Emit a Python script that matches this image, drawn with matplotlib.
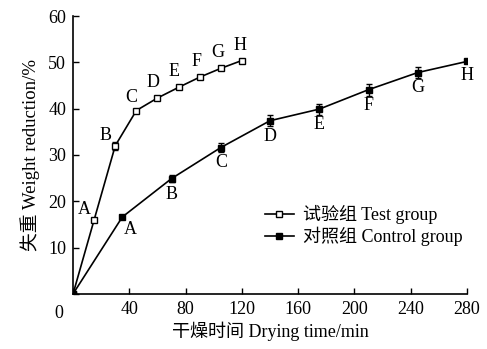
import numpy as np
import matplotlib.pyplot as plt
from matplotlib.lines import Line2D

plt.rcParams['font.family'] = ['Liberation Serif', 'Noto Sans CJK SC']
plt.rcParams['font.size'] = 13

test_t = [0, 15, 30, 45, 60, 75, 90, 105, 120]
test_w = [0, 16.0, 32.0, 39.6, 42.3, 44.6, 46.8, 48.7, 50.4]
test_err = [0, 0.3, 0.9, 0.4, 0.3, 0.3, 0.3, 0.4, 0.3]

ctrl_t = [0, 35, 70, 105, 140, 175, 210, 245, 280]
ctrl_w = [0, 16.6, 24.9, 31.6, 37.4, 39.9, 44.1, 47.8, 50.2]
ctrl_err = [0, 0.4, 0.8, 1.0, 1.2, 1.2, 1.3, 1.2, 0.3]

letters = ['A', 'B', 'C', 'D', 'E', 'F', 'G', 'H']

fig = plt.figure(figsize=(4.87, 3.49), dpi=100)
ax = fig.add_axes([0.150, 0.158, 0.809, 0.796])

ax.errorbar(test_t, test_w, yerr=test_err, color='black', lw=1.2, marker='s',
            ms=4, mfc='white', mec='black', mew=1.0, capsize=2.5, elinewidth=1.0)
ax.errorbar(ctrl_t, ctrl_w, yerr=ctrl_err, color='black', lw=1.2, marker='s',
            ms=4, mfc='black', mec='black', capsize=2.5, elinewidth=1.0)

# letter annotations
test_off = [(-7, 1), (-7, 1), (-4, 3), (-3, 5), (-3, 5), (-2, 5), (-2, 5), (-1, 5)]
for i, l in enumerate(letters):
    dx, dy = test_off[i]
    ax.annotate(l, (test_t[i + 1], test_w[i + 1]), xytext=(dx, dy),
                textcoords='offset points', ha='center', va='bottom')
ctrl_off = [(6, -3), (0, -5), (0, -5), (0, -5), (0, -5), (0, -5), (0, -5), (0, -4)]
for i, l in enumerate(letters):
    dx, dy = ctrl_off[i]
    ax.annotate(l, (ctrl_t[i + 1], ctrl_w[i + 1]), xytext=(dx, dy),
                textcoords='offset points', ha='center', va='top')

ax.set_xlim(0, 280)
ax.set_ylim(0, 60)
ax.set_xticks([0, 40, 80, 120, 160, 200, 240, 280])
ax.set_xticklabels(['', '40', '80', '120', '160', '200', '240', '280'])
ax.set_yticks([0, 10, 20, 30, 40, 50, 60])
ax.set_yticklabels(['', '10', '20', '30', '40', '50', '60'])
ax.text(-10, -2.3, '0', ha='center', va='top')
ax.tick_params(direction='in', length=4, width=1.0, pad=5)
for s in ['top', 'right']:
    ax.spines[s].set_visible(False)
for s in ['left', 'bottom']:
    ax.spines[s].set_linewidth(1.2)

ax.set_xlabel('干燥时间 Drying time/min', labelpad=3)
ax.set_ylabel('失重 Weight reduction/%', labelpad=6, fontsize=13.5)

handles = [
    Line2D([], [], color='black', lw=1.2, marker='s', ms=4, mfc='white', mec='black'),
    Line2D([], [], color='black', lw=1.2, marker='s', ms=4, mfc='black', mec='black'),
]
ax.legend(handles, ['试验组 Test group', '对照组 Control group'],
          loc='center left', bbox_to_anchor=(0.445, 0.245), frameon=False,
          handlelength=1.6, handletextpad=0.5, labelspacing=0.15)

plt.savefig('out.png', dpi=100)
